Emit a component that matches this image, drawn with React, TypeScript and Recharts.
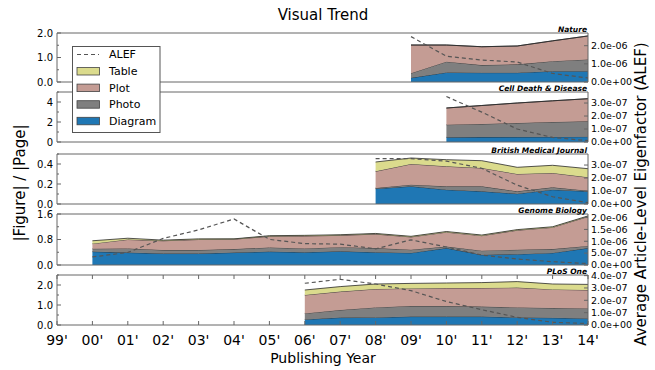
import React from "react";
import { Area, ComposedChart, Line, ReferenceArea, XAxis, YAxis } from "recharts";

const years = [1999, 2000, 2001, 2002, 2003, 2004, 2005, 2006, 2007, 2008, 2009, 2010, 2011, 2012, 2013, 2014];
const yearLabels = ["99'", "00'", "01'", "02'", "03'", "04'", "05'", "06'", "07'", "08'", "09'", "10'", "11'", "12'", "13'", "14'"];

// Nature
const natureYears = [2009, 2010, 2011, 2012, 2013, 2014];
const natureDiagram = [0.17, 0.39, 0.38, 0.38, 0.44, 0.44];
const naturePhoto = [0.19, 0.44, 0.31, 0.34, 0.41, 0.48];
const naturePlot = [1.15, 0.68, 0.75, 0.75, 0.83, 0.96];
const natureTable = [0, 0, 0, 0, 0, 0];
const natureAlef = [2.5e-6, 1.42e-6, 1.21e-6, 1.1e-6, 0.47e-6, 0.22e-6];

// Cell Death & Disease
const cellYears = [2010, 2011, 2012, 2013, 2014];
const cellDiagram = [0.47, 0.49, 0.5, 0.51, 0.53];
const cellPhoto = [1.26, 1.31, 1.4, 1.49, 1.54];
const cellPlot = [1.67, 1.85, 2.0, 2.12, 2.26];
const cellTable = [0, 0, 0, 0, 0];
const cellAlef = [3.5e-7, 2.3e-7, 1.0e-7, 0.35e-7, 0.1e-7];

// British Medical Journal
const bmjYears = [2008, 2009, 2010, 2011, 2012, 2013, 2014];
const bmjDiagram = [0.153, 0.177, 0.143, 0.127, 0.103, 0.143, 0.127];
const bmjPhoto = [0.007, 0.016, 0.034, 0.05, 0.024, 0.024, 0.006];
const bmjPlot = [0.167, 0.207, 0.2, 0.183, 0.173, 0.143, 0.134];
const bmjTable = [0.093, 0.06, 0.066, 0.073, 0.067, 0.077, 0.086];
const bmjAlef = [3.5e-7, 3.5e-7, 3.3e-7, 2.75e-7, 1.45e-7, 0.56e-7, 0.1e-7];

// Genome Biology
const genomeYears = [2000, 2001, 2002, 2003, 2004, 2005, 2006, 2007, 2008, 2009, 2010, 2011, 2012, 2013, 2014];
const genomeDiagram = [0.42, 0.39, 0.36, 0.36, 0.39, 0.42, 0.4, 0.43, 0.4, 0.38, 0.53, 0.32, 0.34, 0.38, 0.53];
const genomePhoto = [0.09, 0.13, 0.11, 0.11, 0.11, 0.13, 0.12, 0.13, 0.13, 0.1, 0.05, 0.13, 0.14, 0.12, 0.07];
const genomePlot = [0.16, 0.28, 0.29, 0.33, 0.31, 0.35, 0.39, 0.37, 0.44, 0.4, 0.45, 0.47, 0.61, 0.68, 0.92];
const genomeTable = [0.09, 0.04, 0.02, 0.02, 0.01, 0.02, 0.02, 0.02, 0.02, 0.02, 0.02, 0.02, 0.02, 0.02, 0.02];
const genomeAlef = [0.34e-6, 0.53e-6, 1.12e-6, 1.48e-6, 1.94e-6, 1.08e-6, 0.9e-6, 0.88e-6, 0.68e-6, 1.06e-6, 0.76e-6, 0.42e-6, 0.25e-6, 0.14e-6, 0.06e-6];

// PLoS One
const plosYears = [2006, 2007, 2008, 2009, 2010, 2011, 2012, 2013, 2014];
const plosDiagram = [0.28, 0.37, 0.38, 0.42, 0.42, 0.42, 0.38, 0.36, 0.33];
const plosPhoto = [0.3, 0.38, 0.5, 0.53, 0.53, 0.5, 0.5, 0.49, 0.5];
const plosPlot = [0.92, 0.92, 0.92, 0.88, 0.9, 0.93, 0.99, 0.93, 0.92];
const plosTable = [0.25, 0.25, 0.25, 0.25, 0.25, 0.27, 0.3, 0.27, 0.28];
const plosAlef = [3.38e-7, 3.7e-7, 3.32e-7, 2.78e-7, 1.9e-7, 1.24e-7, 0.62e-7, 0.22e-7, 0.12e-7];

const W = 655;
const H = 370;
const PLOT_LEFT = 57;
const PLOT_RIGHT = 588;
const LEFT_W = 40;
const RIGHT_W = 62;
const FONT = "DejaVu Sans, sans-serif";
const FRAME = "#666";
const EDGE = "#2a2a2a";

const COLORS = {
  Diagram: "#1f77b4",
  Photo: "#7f7f7f",
  Plot: "#c49c94",
  Table: "#dbdb8d",
};

const panels = [
  {
    name: "Nature", years: natureYears, diagram: natureDiagram, photo: naturePhoto, plot: naturePlot, table: natureTable, alef: natureAlef,
    top: 33, bottom: 82, leftMax: 2, leftTicks: [0, 0.5, 1, 1.5, 2], digits: 1, rightMax: 2.7e-6, rightTicks: [0, 1e-6, 2e-6],
  },
  {
    name: "Cell Death & Disease", years: cellYears, diagram: cellDiagram, photo: cellPhoto, plot: cellPlot, table: cellTable, alef: cellAlef,
    top: 92, bottom: 142, leftMax: 5, leftTicks: [0, 1, 2, 3, 4, 5], digits: 0, rightMax: 3.85e-7, rightTicks: [0, 1e-7, 2e-7, 3e-7],
  },
  {
    name: "British Medical Journal", years: bmjYears, diagram: bmjDiagram, photo: bmjPhoto, plot: bmjPlot, table: bmjTable, alef: bmjAlef,
    top: 154, bottom: 204, leftMax: 0.5, leftTicks: [0, 0.1, 0.2, 0.3, 0.4, 0.5], digits: 1, rightMax: 3.85e-7, rightTicks: [0, 1e-7, 2e-7, 3e-7],
  },
  {
    name: "Genome Biology", years: genomeYears, diagram: genomeDiagram, photo: genomePhoto, plot: genomePlot, table: genomeTable, alef: genomeAlef,
    top: 214, bottom: 265, leftMax: 1.6, leftTicks: [0, 0.4, 0.8, 1.2, 1.6], digits: 1, rightMax: 2.15e-6, rightTicks: [0, 5e-7, 1e-6, 1.5e-6, 2e-6],
  },
  {
    name: "PLoS One", years: plosYears, diagram: plosDiagram, photo: plosPhoto, plot: plosPlot, table: plosTable, alef: plosAlef,
    top: 275, bottom: 325, leftMax: 2.5, leftTicks: [0, 0.5, 1, 1.5, 2, 2.5], digits: 1, rightMax: 4.05e-7, rightTicks: [0, 1e-7, 2e-7, 3e-7, 4e-7],
  },
];

// matplotlib style "2.0e-06"
const fmtSci = (v: number) => {
  const [m, e] = v.toExponential(1).split("e");
  const n = Number(e);
  return `${m}e${n < 0 ? "-" : "+"}${String(Math.abs(n)).padStart(2, "0")}`;
};

const Panel = ({ p, showX }: { p: any; showX: boolean }) => {
  const rows = p.years.map((year: number, i: number) => ({
    year,
    Diagram: p.diagram[i],
    Photo: p.photo[i],
    Plot: p.plot[i],
    Table: p.table[i],
    ALEF: p.alef[i],
  }));
  const xAxisH = showX ? 30 : 0;

  const xTick = (props: any) => {
    const { x, y, payload } = props;
    const bottom = y - 15;
    const label = yearLabels[years.indexOf(payload.value)];
    return (
      <g>
        <line x1={x} x2={x} y1={bottom} y2={bottom - 4} stroke={FRAME} />
        <line x1={x} x2={x} y1={p.top} y2={p.top + 4} stroke={FRAME} />
        {showX && (
          <text x={x} y={y} dy="0.35em" textAnchor="middle" fontSize={14} fontFamily={FONT} fill="#000">
            {label}
          </text>
        )}
      </g>
    );
  };

  const leftTick = (props: any) => {
    const { x, y, payload, index } = props;
    const major = index % 2 === 0;
    const ax = x + 3;
    return (
      <g>
        <line x1={ax} x2={ax + (major ? 4 : 2)} y1={y} y2={y} stroke={FRAME} />
        {major && (
          <text x={x - 1} y={y} dy="0.35em" textAnchor="end" fontSize={10} fontFamily={FONT} fill="#000">
            {payload.value.toFixed(p.digits)}
          </text>
        )}
      </g>
    );
  };

  const rightTick = (props: any) => {
    const { x, y, payload } = props;
    const ax = x - 3;
    return (
      <g>
        <line x1={ax} x2={ax - 4} y1={y} y2={y} stroke={FRAME} />
        <text x={x} y={y} dy="0.35em" textAnchor="start" fontSize={9.5} fontFamily={FONT} fill="#000">
          {fmtSci(payload.value)}
        </text>
      </g>
    );
  };

  return (
    <div style={{ position: "absolute", left: 0, top: 0 }}>
      <ComposedChart
        width={W}
        height={H}
        data={rows}
        margin={{
          top: p.top,
          bottom: H - p.bottom - xAxisH,
          left: PLOT_LEFT - LEFT_W,
          right: W - PLOT_RIGHT - RIGHT_W,
        }}
      >
        <XAxis
          dataKey="year"
          type="number"
          domain={[1999, 2014]}
          ticks={years}
          interval={0}
          allowDataOverflow
          height={xAxisH}
          tickSize={0}
          tickMargin={15}
          axisLine={false}
          tickLine={false}
          tick={xTick}
        />
        <YAxis
          yAxisId="left"
          domain={[0, p.leftMax]}
          ticks={p.leftTicks}
          interval={0}
          allowDataOverflow
          width={LEFT_W}
          tickSize={0}
          tickMargin={3}
          axisLine={false}
          tickLine={false}
          tick={leftTick}
        />
        <YAxis
          yAxisId="right"
          orientation="right"
          domain={[0, p.rightMax]}
          ticks={p.rightTicks}
          interval={0}
          allowDataOverflow
          width={RIGHT_W}
          tickSize={0}
          tickMargin={3}
          axisLine={false}
          tickLine={false}
          tick={rightTick}
        />
        {(["Diagram", "Photo", "Plot", "Table"] as const).map((k) => (
          <Area
            key={k}
            yAxisId="left"
            type="linear"
            dataKey={k}
            stackId="s"
            fill={COLORS[k]}
            fillOpacity={1}
            stroke={EDGE}
            strokeWidth={0.8}
            dot={false}
            activeDot={false}
            isAnimationActive={false}
          />
        ))}
        <Line
          yAxisId="right"
          type="linear"
          dataKey="ALEF"
          stroke="#555"
          strokeWidth={1.2}
          strokeDasharray="4 3"
          dot={false}
          activeDot={false}
          isAnimationActive={false}
        />
        <ReferenceArea
          yAxisId="left"
          x1={1999}
          x2={2014}
          y1={0}
          y2={p.leftMax}
          fill="none"
          stroke={FRAME}
          strokeWidth={1}
          ifOverflow="visible"
        />
      </ComposedChart>
    </div>
  );
};

const legendItems = [
  { label: "Table", color: COLORS.Table },
  { label: "Plot", color: COLORS.Plot },
  { label: "Photo", color: COLORS.Photo },
  { label: "Diagram", color: COLORS.Diagram },
];

const Overlay = () => (
  <svg width={W} height={H} style={{ position: "absolute", left: 0, top: 0, zIndex: 5 }}>
    <text x={323} y={20} textAnchor="middle" fontSize={15} fontFamily={FONT}>
      Visual Trend
    </text>
    <text x={323} y={363} textAnchor="middle" fontSize={14} fontFamily={FONT}>
      Publishing Year
    </text>
    <text transform="translate(25,183) rotate(-90)" textAnchor="middle" fontSize={15} fontFamily={FONT}>
      |Figure| / |Page|
    </text>
    <text transform="translate(646,194) rotate(-90)" textAnchor="middle" fontSize={15} fontFamily={FONT}>
      Average Article-Level Eigenfactor (ALEF)
    </text>
    {panels.map((p) => (
      <text
        key={p.name}
        x={587}
        y={p.top - 1.5}
        textAnchor="end"
        fontSize={7.5}
        fontWeight="bold"
        fontStyle="italic"
        fontFamily={FONT}
      >
        {p.name}
      </text>
    ))}
    <g>
      <rect x={72.5} y={46.5} width={87.5} height={86} fill="#fff" stroke="#555" strokeWidth={1} />
      <line x1={77} x2={99} y1={54.5} y2={54.5} stroke="#555" strokeWidth={1.2} strokeDasharray="4 3" />
      <text x={109} y={54.5} dy="0.35em" fontSize={11} fontFamily={FONT}>
        ALEF
      </text>
      {legendItems.map((it, i) => (
        <g key={it.label}>
          <rect x={77} y={67.5 + i * 16.6} width={22.5} height={7.5} fill={it.color} stroke="#444" strokeWidth={0.8} />
          <text x={109} y={71.3 + i * 16.6} dy="0.35em" fontSize={11} fontFamily={FONT}>
            {it.label}
          </text>
        </g>
      ))}
    </g>
  </svg>
);

export default function App() {
  return (
    <div style={{ position: "absolute", left: 0, top: 0, width: W, height: H, background: "#fff", fontFamily: FONT }}>
      {panels.map((p, i) => (
        <Panel key={p.name} p={p} showX={i === panels.length - 1} />
      ))}
      <Overlay />
    </div>
  );
}
